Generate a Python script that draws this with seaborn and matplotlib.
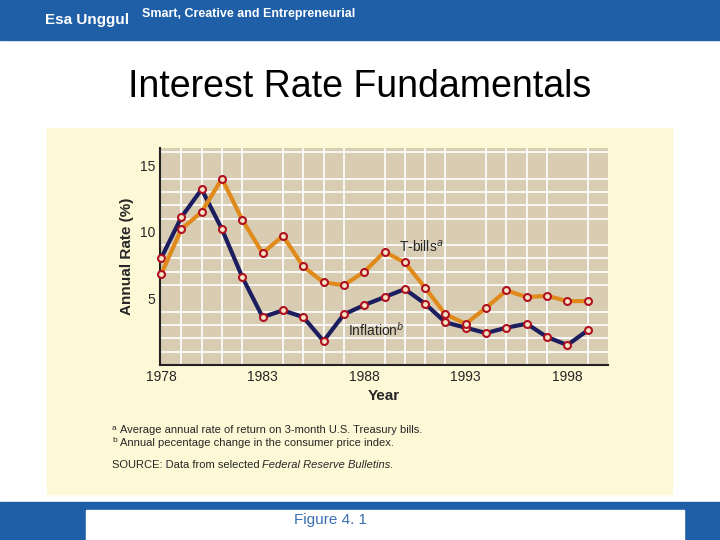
import numpy as np
import pandas as pd
import matplotlib
matplotlib.use("Agg")
import matplotlib.pyplot as plt
import seaborn as sns
from matplotlib.patches import Rectangle

years = list(range(1978, 2000))
tbills = [6.8, 10.2, 11.5, 14.0, 10.9, 8.4, 9.7, 7.4, 6.2, 6.0, 7.0, 8.5, 7.7, 5.8,
          3.8, 3.1, 4.3, 5.6, 5.1, 5.2, 4.8, 4.8]
inflation = [8.0, 11.1, 13.2, 10.2, 6.6, 3.6, 4.1, 3.6, 1.8, 3.8, 4.5, 5.1, 5.7, 4.6,
             3.2, 2.8, 2.4, 2.8, 3.1, 2.1, 1.5, 2.6]
tick_years = [1978, 1983, 1988, 1993, 1998]
y_ticks = [5, 10, 15]

df = pd.DataFrame({"Year": years * 2, "Rate": inflation + tbills,
                   "Series": ["Inflation"] * len(years) + ["T-bills"] * len(years)})

sns.set_style("white")
plt.rcParams["font.family"] = ["Liberation Sans", "DejaVu Sans"]
fig = plt.figure(figsize=(7.2, 5.4), dpi=100)

# slide decoration
fig.patches.append(Rectangle((0, 500/540), 1, 40/540, transform=fig.transFigure, color="#1f5fa8", zorder=0))
fig.patches.append(Rectangle((0, 0.0), 1, 38/540, transform=fig.transFigure, color="#1f5fa8", zorder=0))
fig.patches.append(Rectangle((0.12, 0.0), 0.83, 30/540, transform=fig.transFigure, color="white", zorder=0))
fig.patches.append(Rectangle((47/720, 46/540), 625/720, 366/540, transform=fig.transFigure,
                             color="#fdf8d6", zorder=1))
fig.text(45/720, 1 - 20/540, "Esa Unggul", color="white", fontsize=11, fontweight="bold", va="center")
fig.text(142/720, 1 - 14/540, "Smart, Creative and Entrepreneurial", color="white", fontsize=9,
         fontweight="bold", va="center")
fig.text(0.5, 1 - 87/540, "Interest Rate Fundamentals", ha="center", va="center", fontsize=27,
         color="black")
fig.text(330/720, 20/540, "Figure 4. 1", ha="center", va="center", fontsize=11, color="#3a6fb0")

ax = fig.add_axes([160/720, (540-365)/540, 448/720, 217/540])
ax.set_zorder(3)
ax.set_facecolor("#d8cdb3")
palette = {"Inflation": "#1c1d5e", "T-bills": "#e08a1c"}
sns.lineplot(data=df, x="Year", y="Rate", hue="Series", palette=palette, lw=3,
             marker="o", markersize=5, markerfacecolor="#f3e6c8", markeredgecolor="#b01020",
             markeredgewidth=1.5, legend=False, ax=ax, zorder=3, clip_on=False)
ax.set_xlim(1977.95, 2000.0)
ax.set_ylim(0, 16.3)
ax.set_xticks(years, minor=True)
ax.set_yticks(range(0, 17), minor=True)
ax.grid(which="minor", color="white", lw=1.2, zorder=0)
ax.set_axisbelow(True)
ax.set_xticks(tick_years)
ax.set_yticks(y_ticks)
ax.tick_params(which="both", length=0, labelsize=10)
for s in ["top", "right"]:
    ax.spines[s].set_visible(False)
for s in ["left", "bottom"]:
    ax.spines[s].set_color("#222222")
    ax.spines[s].set_linewidth(1.5)
ax.set_xlabel("Year", fontsize=11, fontweight="bold")
ax.set_ylabel("Annual Rate (%)", fontsize=11, fontweight="bold")
ax.text(1989.7, 8.5, "T-bills$^a$", fontsize=10)
ax.text(1987.2, 2.2, "Inflation$^b$", fontsize=10)

fig.text(112/720, 1 - 428/540, "a", fontsize=6, va="center")
fig.text(120/720, 1 - 430/540, "Average annual rate of return on 3-month U.S. Treasury bills.", fontsize=8, va="center")
fig.text(112/720, 1 - 440/540, "b", fontsize=6, va="center")
fig.text(120/720, 1 - 443/540, "Annual pecentage change in the consumer price index.", fontsize=8, va="center")
fig.text(112/720, 1 - 465/540, "SOURCE: Data from selected", fontsize=8, va="center")
fig.text(262/720, 1 - 465/540, "Federal Reserve Bulletins.", fontsize=8, va="center", style="italic")

fig.savefig("out.png", dpi=100)
